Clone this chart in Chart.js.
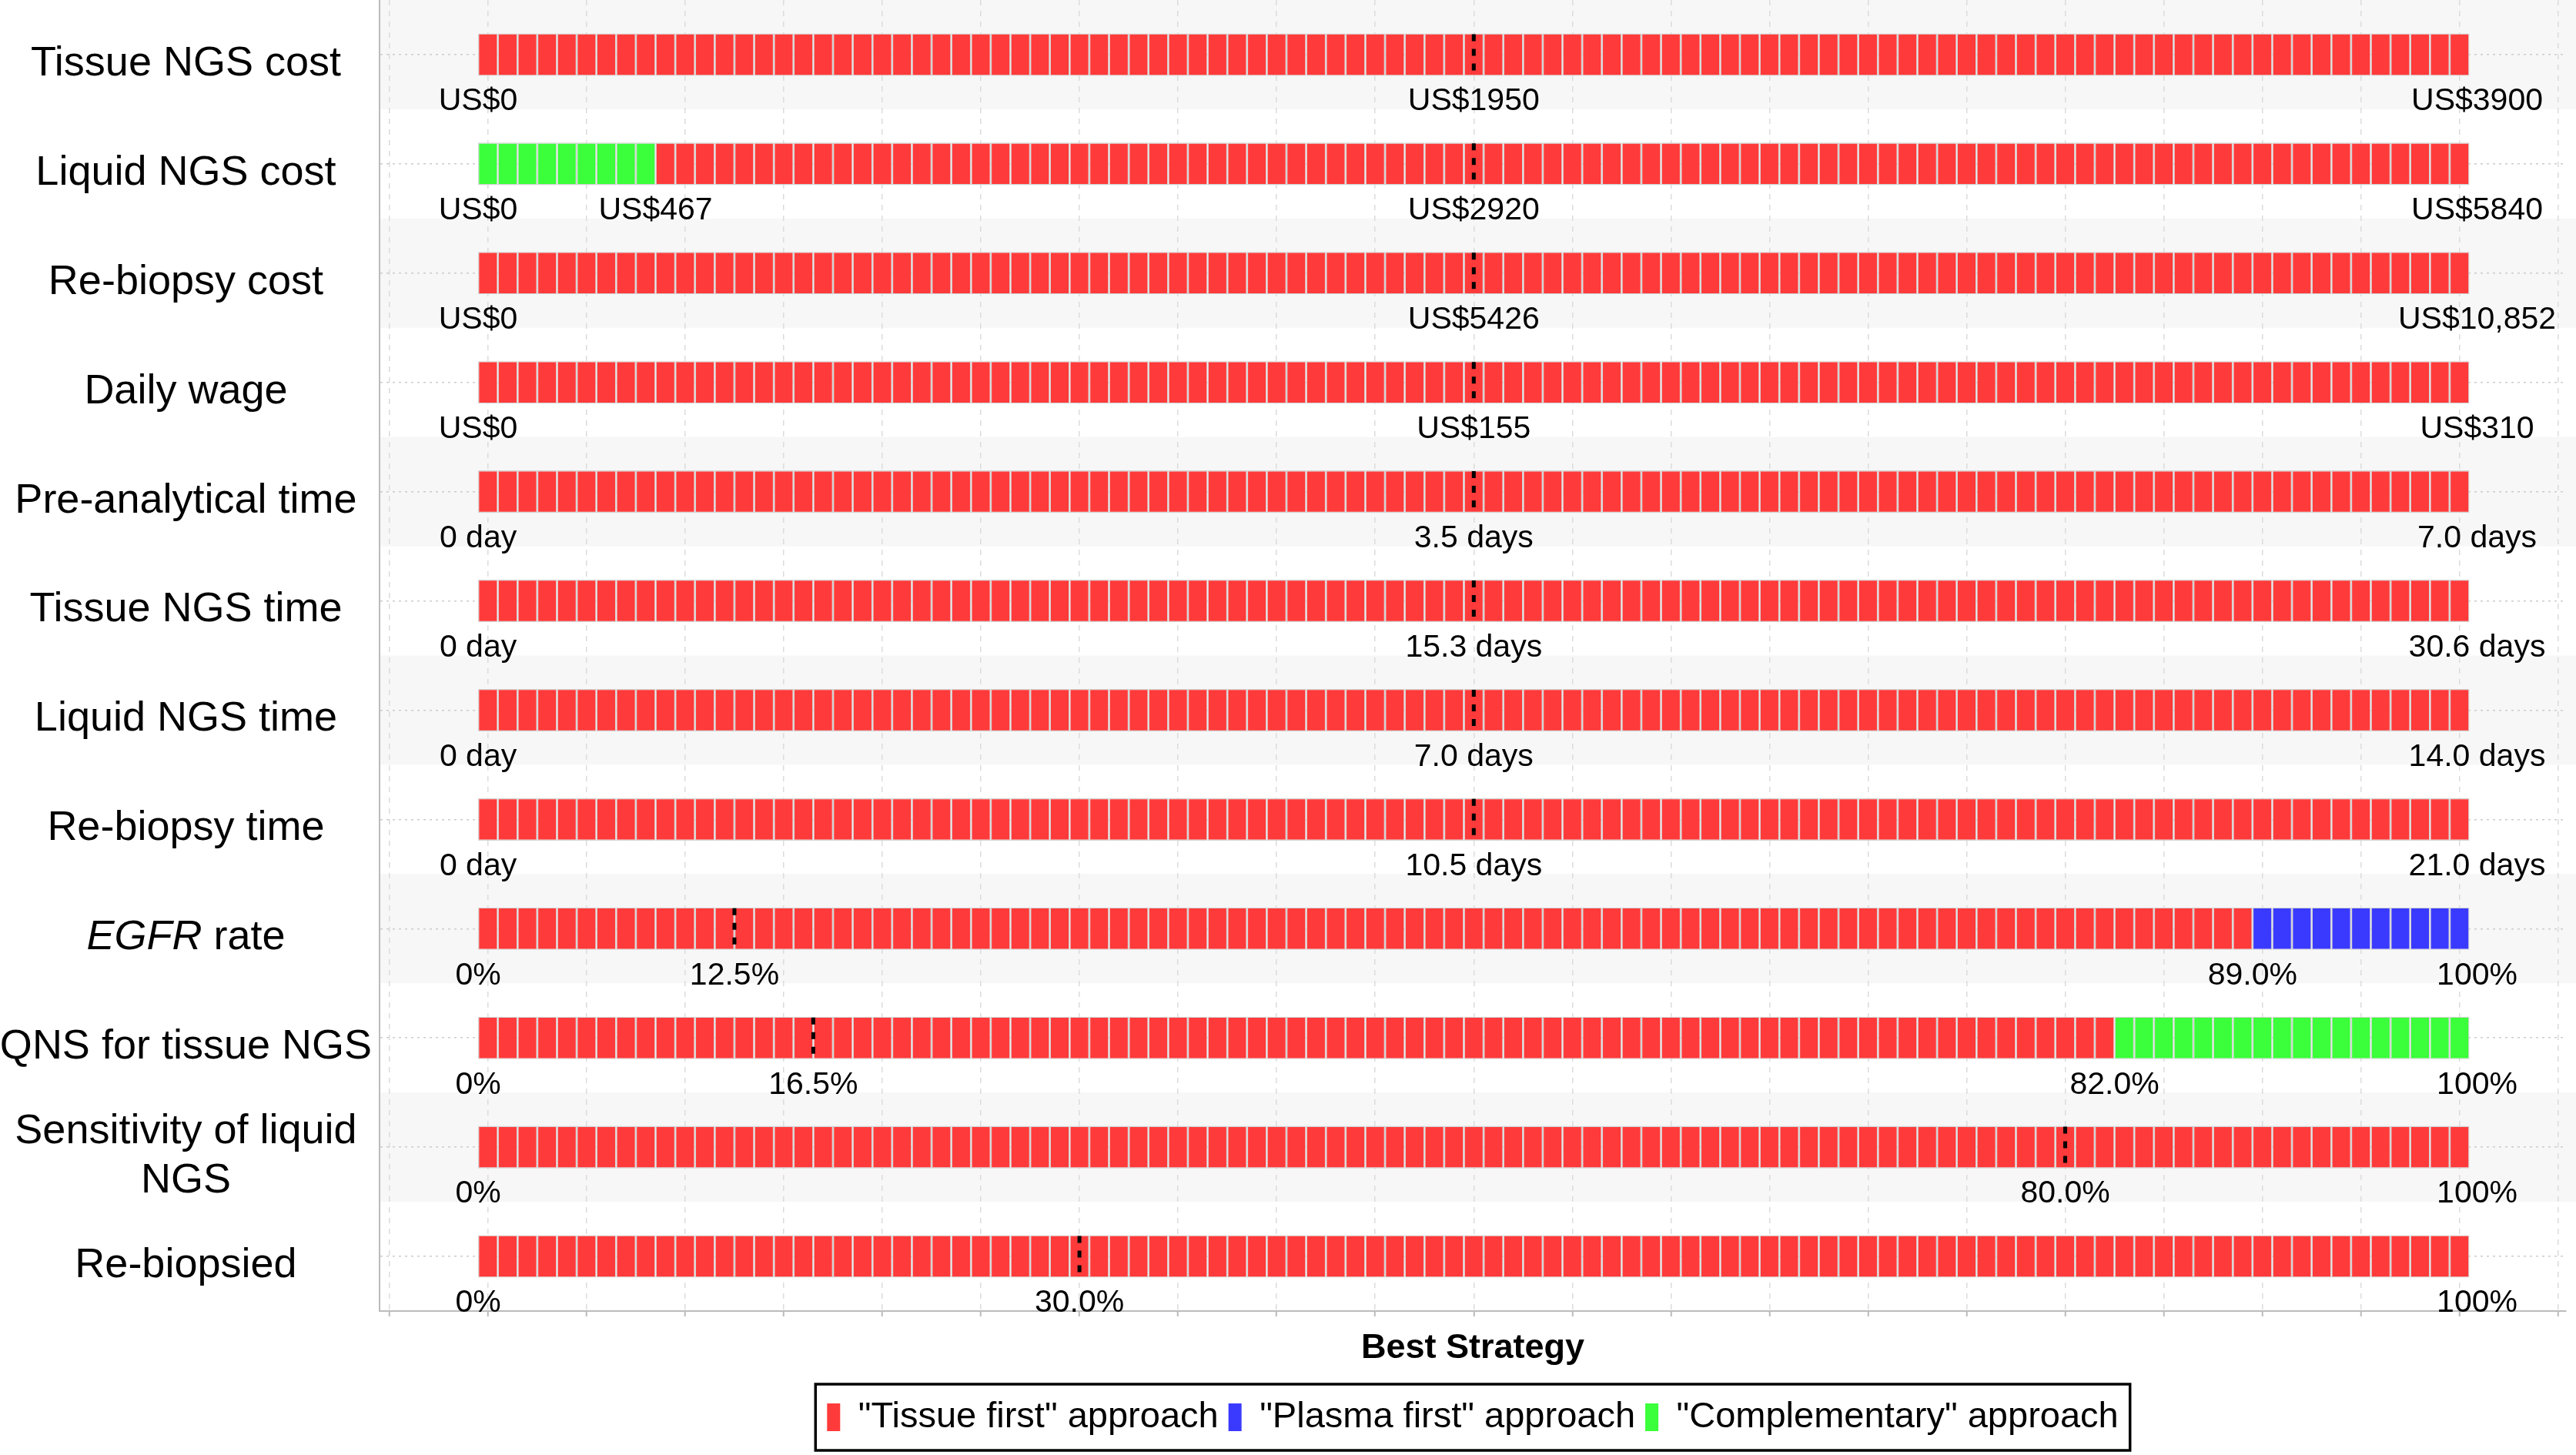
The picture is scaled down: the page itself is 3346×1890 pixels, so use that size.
<!DOCTYPE html>
<html><head><meta charset="utf-8">
<script src="https://cdn.jsdelivr.net/npm/chart.js@4.4.1/dist/chart.umd.min.js"></script>
<style>html,body{margin:0;padding:0;background:#fff;}#wrap{width:3346px;height:1890px;position:relative;}</style>
</head><body><div id="wrap"><canvas id="c"></canvas></div>
<script>
// ---- data ----
const categories = ['Tissue NGS cost','Liquid NGS cost','Re-biopsy cost','Daily wage','Pre-analytical time','Tissue NGS time','Liquid NGS time','Re-biopsy time','EGFR rate','QNS for tissue NGS',['Sensitivity of liquid','NGS'],'Re-biopsied'];
const lowLabels  = ['US$0','US$0','US$0','US$0','0 day','0 day','0 day','0 day','0%','0%','0%','0%'];
const baseLabels = ['US$1950','US$2920','US$5426','US$155','3.5 days','15.3 days','7.0 days','10.5 days','12.5%','16.5%','80.0%','30.0%'];
const highLabels = ['US$3900','US$5840','US$10,852','US$310','7.0 days','30.6 days','14.0 days','21.0 days','100%','100%','100%','100%'];
// base-case position, % of the tested range
const basePct = [50,50,50,50,50,50,50,50,12.5,16.5,80,30];
// threshold (% of range) where the best strategy switches
const switchPct    = [null,8,null,null,null,null,null,null,89,82,null,null];
const switchLabels = [null,'US$467',null,null,null,null,null,null,'89.0%','82.0%',null,null];
// strategy index: 0 tissue first, 1 plasma first, 2 complementary
const strategyBelow = [0,2,0,0,0,0,0,0,0,0,0,0];
const strategyAbove = [0,0,0,0,0,0,0,0,1,2,0,0];
const strategies = ['"Tissue first" approach','"Plasma first" approach','"Complementary" approach'];
// sensitivity-analysis steps, % of the tested range
const stepPct = [0,1,2,3,4,5,6,7,8,9,10,11,12,13,14,15,16,17,18,19,20,21,22,23,24,25,26,27,28,29,30,31,32,33,34,35,36,37,38,39,40,41,42,43,44,45,46,47,48,49,50,51,52,53,54,55,56,57,58,59,60,61,62,63,64,65,66,67,68,69,70,71,72,73,74,75,76,77,78,79,80,81,82,83,84,85,86,87,88,89,90,91,92,93,94,95,96,97,98,99,100];

// ---- styles ----
const FONT = '"Liberation Sans", Arial, Helvetica, sans-serif';
const COLORS = ['#ff3a3a','#3a3aff','#3aff3a'];
const Y_PAD = 10, Y_LABEL_OFFSET = 12, CAT_FONT = 54, VAL_FONT = 41;

function strategyAt(r, p) {
  if (switchPct[r] === null) return strategyBelow[r];
  return p <= switchPct[r] ? strategyBelow[r] : strategyAbove[r];
}

const datasets = stepPct.map(p => ({
  label: 'step ' + p,
  data: categories.map(() => [p - 0.5, p + 0.5]),
  backgroundColor: categories.map((_, r) => COLORS[strategyAt(r, p)]),
  borderColor: '#d2d2d2',
  borderWidth: 1.3,
  borderSkipped: false,
  grouped: false,
  barPercentage: 0.388,
  categoryPercentage: 1
}));

const egfrIndex = categories.indexOf('EGFR rate');

const bandsPlugin = {
  id: 'bands',
  beforeDraw(chart) {
    const {ctx, chartArea: a, scales: {y}} = chart;
    const step = (a.bottom - a.top) / categories.length;
    ctx.save();
    ctx.fillStyle = '#f7f7f7';
    categories.forEach((_, r) => {
      if (r % 2 === 0) {
        const c = y.getPixelForValue(r);
        ctx.fillRect(a.left, c - step / 2, chart.width - a.left, step);
      }
    });
    ctx.restore();
  }
};

const marksPlugin = {
  id: 'marks',
  afterDatasetsDraw(chart) {
    const {ctx, scales: {x}} = chart;
    const meta = chart.getDatasetMeta(0);
    ctx.save();
    categories.forEach((_, r) => {
      const bar = meta.data[r];
      const cy = bar.y, h = bar.height;
      const bx = x.getPixelForValue(basePct[r]);
      ctx.setLineDash([9, 10]);
      ctx.lineWidth = 5;
      ctx.strokeStyle = '#000';
      ctx.beginPath();
      ctx.moveTo(bx, cy - h / 2 + 1);
      ctx.lineTo(bx, cy + h / 2 - 1);
      ctx.stroke();
      ctx.setLineDash([]);
      ctx.font = VAL_FONT + 'px ' + FONT;
      ctx.fillStyle = '#000';
      ctx.textAlign = 'center';
      ctx.textBaseline = 'middle';
      const ly = cy + 61;
      ctx.fillText(lowLabels[r], x.getPixelForValue(stepPct[0] - 0.5), ly);
      ctx.fillText(baseLabels[r], bx, ly);
      if (switchPct[r] !== null) ctx.fillText(switchLabels[r], x.getPixelForValue(switchPct[r] + 0.5), ly);
      ctx.fillText(highLabels[r], x.getPixelForValue(stepPct[stepPct.length - 1] + 0.5) + 10, ly);
    });
    ctx.restore();
  },
  afterDraw(chart) {
    const {ctx, scales: {y}} = chart;
    ctx.save();
    // italic gene name in the EGFR label
    ctx.font = CAT_FONT + 'px ' + FONT;
    let widest = 0;
    categories.forEach(c => [].concat(c).forEach(l => { widest = Math.max(widest, ctx.measureText(l).width); }));
    const cx = y.right - Y_PAD - widest / 2;
    const cy = y.getPixelForTick(egfrIndex) + Y_LABEL_OFFSET;
    ctx.font = 'italic ' + CAT_FONT + 'px ' + FONT;
    const w1 = ctx.measureText('EGFR').width;
    ctx.font = CAT_FONT + 'px ' + FONT;
    const w2 = ctx.measureText(' rate').width;
    const sx = cx - (w1 + w2) / 2;
    ctx.fillStyle = '#000';
    ctx.textAlign = 'left';
    ctx.textBaseline = 'middle';
    ctx.font = 'italic ' + CAT_FONT + 'px ' + FONT;
    ctx.fillText('EGFR', sx, cy);
    ctx.font = CAT_FONT + 'px ' + FONT;
    ctx.fillText(' rate', sx + w1, cy);
    // legend frame
    const hb = chart.legend.legendHitBoxes;
    if (hb && hb.length) {
      const first = hb[0], last = hb[hb.length - 1];
      const l = first.left - 15, r = last.left + last.width + 15;
      const mid = first.top + first.height / 2;
      ctx.strokeStyle = '#000';
      ctx.lineWidth = 3.5;
      ctx.strokeRect(l, mid - 43, r - l, 86);
    }
    ctx.restore();
  }
};

new Chart(document.getElementById('c'), {
  type: 'bar',
  data: { labels: categories, datasets },
  plugins: [bandsPlugin, marksPlugin],
  options: {
    indexAxis: 'y',
    responsive: true,
    maintainAspectRatio: false,
    animation: false,
    layout: { padding: { left: 0, right: 13, top: 0, bottom: 15.5 } },
    scales: {
      x: {
        type: 'linear', min: -5.5, max: 105.4,
        ticks: { display: false, stepSize: 5, includeBounds: false },
        grid: { color: '#dcdcdc', lineWidth: 1.5, drawTicks: true, tickLength: 7, tickColor: '#bbbbbb', tickWidth: 2, tickBorderDash: [] },
        border: { display: true, color: '#bbbbbb', width: 2, dash: [7, 7] },
        title: { display: true, text: 'Best Strategy', color: '#000', font: { family: FONT, size: 45, weight: 'bold', lineHeight: 1.2 }, padding: { top: 0, bottom: 25.5 } },
        afterFit(s) { s.height = 101.5; s.paddingLeft = 0; s.paddingRight = 0; }
      },
      y: {
        type: 'category', offset: true,
        ticks: {
          font: { family: FONT, size: CAT_FONT, lineHeight: 1.2 },
          color: c => (c.index === egfrIndex ? 'rgba(0,0,0,0)' : '#000'),
          crossAlign: 'center', padding: Y_PAD, labelOffset: Y_LABEL_OFFSET, autoSkip: false
        },
        grid: { offset: false, color: '#cccccc', lineWidth: 1.5, drawTicks: false },
        border: { display: true, color: '#bbbbbb', width: 2, dash: [3, 5] },
        afterFit(s) { s.width = 493; s.paddingTop = 0; s.paddingBottom = 0; }
      }
    },
    plugins: {
      tooltip: { enabled: false },
      legend: {
        position: 'bottom', fullSize: false, align: 'center',
        labels: {
          font: { family: FONT, size: 47 }, color: '#000',
          boxWidth: 17, boxHeight: 36, padding: 13,
          generateLabels: () => strategies.map((s, i) => ({ text: s, fillStyle: COLORS[i], strokeStyle: COLORS[i], lineWidth: 0, hidden: false, datasetIndex: i }))
        }
      }
    }
  }
});
</script>
</body></html>
